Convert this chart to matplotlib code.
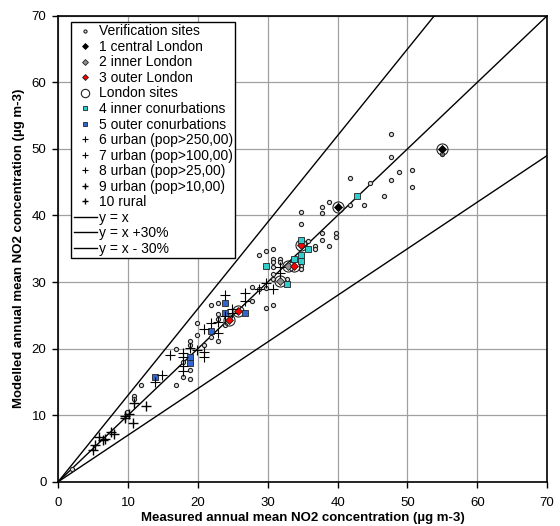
import matplotlib
matplotlib.use("Agg")
import matplotlib.pyplot as plt

plt.rcParams['font.family'] = ['Liberation Sans', 'DejaVu Sans']
plt.rcParams['font.size'] = 9

# measured (x) vs modelled (y) annual mean NO2
verif_x = [47.7, 47.7, 48.8, 47.7, 50.7, 50.7, 46.7, 55.0, 44.6, 41.8, 43.8, 41.8, 38.8, 37.8, 37.8,
           34.8, 34.8, 37.8, 39.8, 39.8, 37.8, 36.8, 36.8, 38.8, 35.8, 34.8, 34.8, 32.8, 30.8, 29.8,
           28.8, 30.8, 30.8, 30.8, 30.8, 30.8, 31.8, 31.8, 29.8, 29.8, 30.8, 27.8, 27.8, 28.8, 22.9,
           21.9, 22.9, 22.9, 23.9, 22.9, 21.9, 19.9, 19.9, 20.9, 18.8, 18.8, 17.9, 18.8, 18.8, 17.9,
           16.9, 16.9, 11.9, 10.9, 10.9, 9.9, 1.9]
verif_y = [52.3, 48.8, 46.5, 45.3, 46.8, 44.3, 42.9, 49.2, 44.9, 45.6, 41.6, 41.6, 42.0, 41.2, 40.3,
           40.5, 38.7, 37.3, 37.4, 36.7, 36.3, 35.4, 35.0, 35.4, 36.1, 32.4, 32.0, 30.5, 35.0, 34.6,
           34.1, 33.5, 33.0, 32.2, 31.2, 30.5, 33.5, 33.0, 29.1, 26.1, 26.6, 29.2, 27.1, 28.9, 26.8,
           26.6, 25.2, 24.4, 23.5, 21.2, 21.8, 23.9, 22.0, 20.5, 21.1, 20.5, 18.0, 16.8, 15.4, 15.7,
           20.0, 14.5, 14.5, 12.9, 12.4, 10.5, 1.9]

central_x = [55.0, 40.0]
central_y = [50.0, 41.2]
inner_x = [32.9, 31.8]
inner_y = [32.4, 30.1]
outer_x = [34.8, 33.8, 25.8, 24.5]
outer_y = [35.6, 32.4, 25.7, 24.3]
london_x = central_x + inner_x + outer_x
london_y = central_y + inner_y + outer_y

inner_conurb_x = [42.8, 34.8, 35.8, 34.8, 34.8, 33.8, 32.8, 29.8]
inner_conurb_y = [42.9, 36.3, 34.9, 34.1, 33.2, 33.5, 29.7, 32.4]
outer_conurb_x = [26.8, 23.9, 23.9, 21.9, 18.8, 18.8, 13.9]
outer_conurb_y = [25.4, 26.8, 25.3, 22.6, 18.8, 17.8, 15.7]

urban6_x = [22.9, 23.9, 23.9, 24.9, 24.9, 26.8, 26.8, 30.8, 28.8, 29.8, 31.8, 31.8]
urban6_y = [24.0, 24.9, 28.0, 25.4, 26.0, 27.2, 28.3, 29.0, 29.0, 29.9, 31.4, 32.2]
urban7_x = [17.9, 17.9, 18.8, 20.9, 20.9, 19.9, 20.9, 21.9, 22.9]
urban7_y = [18.8, 19.4, 20.1, 18.8, 19.5, 19.8, 23.0, 23.8, 22.4]
urban8_x = [13.9, 14.9, 16.0, 17.9, 17.9]
urban8_y = [15.0, 16.0, 19.0, 16.6, 17.4]
urban9_x = [9.5, 9.6, 10.7, 10.9, 12.5, 10.2]
urban9_y = [9.8, 9.5, 8.8, 11.8, 11.4, 10.2]
rural_x = [5.0, 5.2, 5.9, 6.4, 6.7, 7.6, 8.0]
rural_y = [4.7, 5.5, 6.7, 6.3, 6.4, 7.4, 7.2]

line_x = [0, 70]

fig = plt.figure(figsize=(5.6, 5.26), dpi=100)
ax = fig.add_axes([0.104, 0.0842, 0.873, 0.8858])

h = {}
h['yx'], = ax.plot(line_x, line_x, color='black', lw=1.0, zorder=2, label='y = x')
h['p30'], = ax.plot(line_x, [v * 1.3 for v in line_x], color='black', lw=1.0, zorder=2, label='y = x +30%')
h['m30'], = ax.plot(line_x, [v * 0.7 for v in line_x], color='black', lw=1.0, zorder=2, label='y = x - 30%')

h['ver'], = ax.plot(verif_x, verif_y, 'o', ms=3, mfc='#dddddd', mec='#222222', mew=0.8,
                    zorder=3, label='Verification sites')
h['lon'], = ax.plot(london_x, london_y, 'o', ms=8, mfc='none', mec='#222222', mew=0.8,
                    zorder=4, label='London sites')
h['c1'], = ax.plot(central_x, central_y, 'D', ms=4, mfc='black', mec='black', mew=0.6,
                   zorder=5, label='1 central London')
h['c2'], = ax.plot(inner_x, inner_y, 'D', ms=4, mfc='#909090', mec='#222222', mew=0.6,
                   zorder=5, label='2 inner London')
h['c3'], = ax.plot(outer_x, outer_y, 'D', ms=4, mfc='red', mec='#222222', mew=0.6,
                   zorder=5, label='3 outer London')
h['c4'], = ax.plot(inner_conurb_x, inner_conurb_y, 's', ms=4, mfc='#33cccc', mec='#222222', mew=0.6,
                   zorder=5, label='4 inner conurbations')
h['c5'], = ax.plot(outer_conurb_x, outer_conurb_y, 's', ms=4, mfc='#3366cc', mec='#222222', mew=0.6,
                   zorder=5, label='5 outer conurbations')
h['c6'], = ax.plot(urban6_x, urban6_y, '+', ms=6.5, color='black', mew=0.8, zorder=5,
                   label='6 urban (pop>250,00)')
h['c7'], = ax.plot(urban7_x, urban7_y, '+', ms=6.5, color='black', mew=0.8, zorder=5,
                   label='7 urban (pop>100,00)')
h['c8'], = ax.plot(urban8_x, urban8_y, '+', ms=6.5, color='black', mew=0.8, zorder=5,
                   label='8 urban (pop>25,00)')
h['c9'], = ax.plot(urban9_x, urban9_y, '+', ms=6.5, color='black', mew=1.0, zorder=5,
                   label='9 urban (pop>10,00)')
h['c10'], = ax.plot(rural_x, rural_y, '+', ms=6.5, color='black', mew=1.0, zorder=5,
                    label='10 rural')

order = ['ver', 'c1', 'c2', 'c3', 'lon', 'c4', 'c5', 'c6', 'c7', 'c8', 'c9', 'c10', 'yx', 'p30', 'm30']
leg = ax.legend([h[k] for k in order], [h[k].get_label() for k in order],
                loc='upper left', bbox_to_anchor=(0.027, 0.986), borderaxespad=0,
                fancybox=False, framealpha=1, edgecolor='black', fontsize=10,
                handlelength=1.7, handletextpad=0.15, borderpad=0.15, labelspacing=0.11,
                markerscale=0.75)
leg.get_frame().set_linewidth(1.0)
leg.set_zorder(10)

ax.set_xlim(0, 70)
ax.set_ylim(0, 70)
ax.set_xticks(range(0, 71, 10))
ax.set_yticks(range(0, 71, 10))
ax.grid(True, color='#a0a0a0', lw=0.9)
ax.set_axisbelow(True)
ax.tick_params(direction='out', length=4, width=1, labelsize=9.5, colors='black')
ax.tick_params(axis='x', pad=7)
ax.tick_params(axis='y', pad=4.5)
for s in ax.spines.values():
    s.set_linewidth(1.2)
    s.set_color('black')

ax.set_xlabel('Measured annual mean NO2 concentration (µg m-3)', fontweight='bold', fontsize=9.5, labelpad=2)
ax.set_ylabel('Modelled annual mean NO2 concentration (µg m-3)', fontweight='bold', fontsize=9.5, labelpad=5)

fig.savefig('out.png', dpi=100)
